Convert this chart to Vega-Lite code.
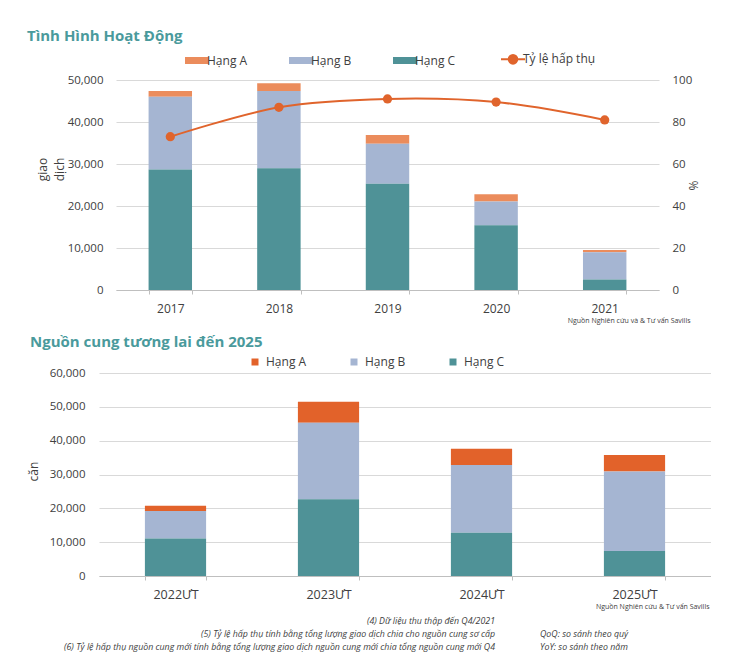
{
  "$schema": "https://vega.github.io/schema/vega-lite/v6.json",
  "padding": {"left": 27, "top": 29, "right": 0, "bottom": 0},
  "background": "white",
  "spacing": 8,
  "config": {
    "font": "Open Sans",
    "view": {"stroke": null},
    "axis": {"labelFont": "Open Sans", "titleFont": "Open Sans", "labelColor": "#404040", "titleColor": "#404040", "gridColor": "#D9D9D9", "gridWidth": 1.2, "domainColor": "#BFBFBF", "tickColor": "#BFBFBF"},
    "legend": {"labelFont": "Open Sans", "labelColor": "#404040"},
    "title": {"font": "Open Sans"}
  },
  "resolve": {"scale": {"color": "independent"}},
  "datasets": {
    "act": [
      {"year": "2017", "grade": "Hạng A", "value": 1400},
      {"year": "2017", "grade": "Hạng B", "value": 17300},
      {"year": "2017", "grade": "Hạng C", "value": 28700},
      {"year": "2018", "grade": "Hạng A", "value": 1800},
      {"year": "2018", "grade": "Hạng B", "value": 18400},
      {"year": "2018", "grade": "Hạng C", "value": 29000},
      {"year": "2019", "grade": "Hạng A", "value": 2100},
      {"year": "2019", "grade": "Hạng B", "value": 9500},
      {"year": "2019", "grade": "Hạng C", "value": 25300},
      {"year": "2020", "grade": "Hạng A", "value": 1700},
      {"year": "2020", "grade": "Hạng B", "value": 5700},
      {"year": "2020", "grade": "Hạng C", "value": 15400},
      {"year": "2021", "grade": "Hạng A", "value": 500},
      {"year": "2021", "grade": "Hạng B", "value": 6500},
      {"year": "2021", "grade": "Hạng C", "value": 2500}
    ],
    "rate": [
      {"year": "2017", "rate": 73},
      {"year": "2018", "rate": 87},
      {"year": "2019", "rate": 91},
      {"year": "2020", "rate": 89.5},
      {"year": "2021", "rate": 81}
    ],
    "supply": [
      {"year": "2022ƯT", "grade": "Hạng A", "value": 1600},
      {"year": "2022ƯT", "grade": "Hạng B", "value": 8100},
      {"year": "2022ƯT", "grade": "Hạng C", "value": 11100},
      {"year": "2023ƯT", "grade": "Hạng A", "value": 6200},
      {"year": "2023ƯT", "grade": "Hạng B", "value": 22600},
      {"year": "2023ƯT", "grade": "Hạng C", "value": 22700},
      {"year": "2024ƯT", "grade": "Hạng A", "value": 4800},
      {"year": "2024ƯT", "grade": "Hạng B", "value": 20000},
      {"year": "2024ƯT", "grade": "Hạng C", "value": 12800},
      {"year": "2025ƯT", "grade": "Hạng A", "value": 4900},
      {"year": "2025ƯT", "grade": "Hạng B", "value": 23500},
      {"year": "2025ƯT", "grade": "Hạng C", "value": 7400}
    ]
  },
  "vconcat": [
    {
      "spacing": 12,
      "resolve": {"scale": {"color": "independent"}},
      "vconcat": [
        {
          "spacing": 16,
          "bounds": "flush",
          "resolve": {"scale": {"color": "independent"}},
          "hconcat": [
            {
              "width": 1,
              "height": 1,
              "data": {"values": []},
              "mark": {"type": "point", "opacity": 0},
              "encoding": {}
            },
            {
              "width": 543,
              "height": 210,
              "title": {"text": "Tình Hình Hoạt Động", "anchor": "start", "frame": "group", "dx": -89, "fontSize": 15, "fontWeight": "bold", "color": "#4A9A9C", "offset": 9},
              "layer": [
                {
                  "data": {"name": "act"},
                  "mark": {"type": "bar"},
                  "encoding": {
                    "x": {
                      "field": "year", "type": "ordinal",
                      "scale": {"paddingInner": 0.6, "paddingOuter": 0.3},
                      "axis": {"title": "Nguồn Nghiên cứu và & Tư vấn Savills", "titleFontSize": 7, "titleFontWeight": "normal", "titleX": 574, "titleY": 30, "titleAlign": "right", "titleBaseline": "middle", "labelAngle": 0, "labelFontSize": 12, "labelPadding": 9, "tickBand": "extent", "tickSize": 4, "grid": false}
                    },
                    "y": {
                      "field": "value", "type": "quantitative", "stack": "zero",
                      "scale": {"domain": [0, 50000]},
                      "axis": {"title": ["giao", "dịch"], "titleFontSize": 12, "titleFontWeight": "normal", "titlePadding": 1, "titleLineHeight": 17, "titleY": 89, "values": [0, 10000, 20000, 30000, 40000, 50000], "format": ",d", "labelFontSize": 11.5, "labelPadding": 13, "ticks": false, "domain": false, "grid": true}
                    },
                    "color": {
                      "field": "grade", "type": "nominal",
                      "scale": {"domain": ["Hạng A", "Hạng B", "Hạng C", "Tỷ lệ hấp thụ"], "range": ["#EB8C5C", "#A5B5D2", "#4F9297", "#E0642C"]},
                      "legend": {
                        "orient": "none", "legendX": 75, "legendY": -27, "direction": "horizontal", "title": null,
                        "labelFontSize": 12, "labelOffset": 4, "columnPadding": 41, "symbolSize": 576, "padding": 0, "gridAlign": "each",
                        "symbolType": "M-1,-0.29H1V0.29H-1Z",
                        "encode": {
                          "symbols": {
                            "update": {
                              "shape": {"signal": "datum.value === 'Tỷ lệ hấp thụ' ? 'M-1,0H1M-0.36,0A0.36,0.36,0,1,0,0.36,0A0.36,0.36,0,1,0,-0.36,0Z' : 'M-1,-0.29H1V0.29H-1Z'"},
                              "fill": {"signal": "datum.value === 'Hạng A' ? '#EB8C5C' : datum.value === 'Hạng B' ? '#A5B5D2' : datum.value === 'Hạng C' ? '#4F9297' : '#E0642C'"},
                              "stroke": {"value": "#E0642C"},
                              "strokeWidth": {"signal": "datum.value === 'Tỷ lệ hấp thụ' ? 2 : 0"},
                              "opacity": {"value": 1},
                              "fillOpacity": {"value": 1}
                            }
                          }
                        }
                      }
                    },
                    "order": {"field": "grade", "sort": "descending"}
                  }
                },
                {
                  "data": {"name": "rate"},
                  "encoding": {
                    "x": {"field": "year", "type": "ordinal"},
                    "y": {
                      "field": "rate", "type": "quantitative",
                      "scale": {"domain": [0, 100]},
                      "axis": {"orient": "right", "title": "%", "titleFontSize": 12, "titleFontWeight": "normal", "titleAngle": 270, "titleX": 34, "titleBaseline": "middle", "values": [0, 20, 40, 60, 80, 100], "labelFontSize": 11.5, "labelPadding": 13, "ticks": false, "domain": false, "grid": false}
                    },
                    "color": {"datum": "Tỷ lệ hấp thụ"}
                  },
                  "layer": [
                    {"mark": {"type": "line", "interpolate": "catmull-rom", "strokeWidth": 2}},
                    {"mark": {"type": "point", "filled": true, "size": 85, "opacity": 1}}
                  ]
                }
              ],
              "resolve": {"scale": {"y": "independent"}}
            }
          ]
        },
        {
          "width": 612,
          "height": 203,
          "title": {"text": "Nguồn cung tương lai đến 2025", "anchor": "start", "frame": "group", "dx": -69, "fontSize": 15, "fontWeight": "bold", "color": "#4A9A9C", "offset": 6},
          "data": {"name": "supply"},
          "mark": {"type": "bar"},
          "encoding": {
            "x": {
              "field": "year", "type": "ordinal",
              "scale": {"paddingInner": 0.6, "paddingOuter": 0.3},
              "axis": {"title": "Nguồn Nghiên cứu & Tư vấn Savills", "titleFontSize": 7, "titleFontWeight": "normal", "titleX": 610, "titleY": 30, "titleAlign": "right", "titleBaseline": "middle", "labelAngle": 0, "labelFontSize": 12.5, "labelPadding": 8, "tickBand": "extent", "tickSize": 4, "grid": false}
            },
            "y": {
              "field": "value", "type": "quantitative", "stack": "zero",
              "scale": {"domain": [0, 60000]},
              "axis": {"title": "căn", "titleFontSize": 12, "titleFontWeight": "normal", "titlePadding": 9, "titleY": 98, "values": [0, 10000, 20000, 30000, 40000, 50000, 60000], "format": ",d", "labelFontSize": 11.5, "labelPadding": 14, "ticks": false, "domain": false, "grid": true}
            },
            "color": {
              "field": "grade", "type": "nominal",
              "scale": {"domain": ["Hạng A", "Hạng B", "Hạng C"], "range": ["#E2622A", "#A5B5D2", "#4F9297"]},
              "legend": {"orient": "none", "legendX": 150, "legendY": -17, "direction": "horizontal", "title": null, "symbolType": "square", "symbolSize": 49, "symbolStrokeWidth": 0, "labelFontSize": 12, "labelOffset": 5, "columnPadding": 41, "padding": 0, "gridAlign": "each"}
            },
            "order": {"field": "grade", "sort": "descending"}
          }
        }
      ]
    },
    {
      "spacing": 45,
      "hconcat": [
        {
          "width": 396,
          "height": 1,
          "data": {"values": []},
          "mark": {"type": "point", "opacity": 0},
          "encoding": {},
          "title": {"text": ["(4)  Dữ liệu thu thập đến  Q4/2021", "(5)  Tỷ lệ hấp thụ tính bằng tổng lượng giao dịch chia cho nguồn cung sơ cấp", "(6)  Tỷ lệ hấp thụ nguồn cung mới tính bằng tổng lượng giao dịch nguồn cung mới chia tổng nguồn cung mới Q4"], "anchor": "end", "frame": "group", "fontSize": 8.8, "fontStyle": "italic", "fontWeight": "normal", "color": "#404040", "lineHeight": 13, "offset": 0}
        },
        {
          "width": 150,
          "height": 1,
          "data": {"values": []},
          "mark": {"type": "point", "opacity": 0},
          "encoding": {},
          "title": {"text": [" ", "QoQ: so sánh theo quý", "YoY: so sánh theo năm"], "anchor": "start", "frame": "group", "fontSize": 8.8, "fontStyle": "italic", "fontWeight": "normal", "color": "#404040", "lineHeight": 13, "offset": 0}
        }
      ]
    }
  ]
}
